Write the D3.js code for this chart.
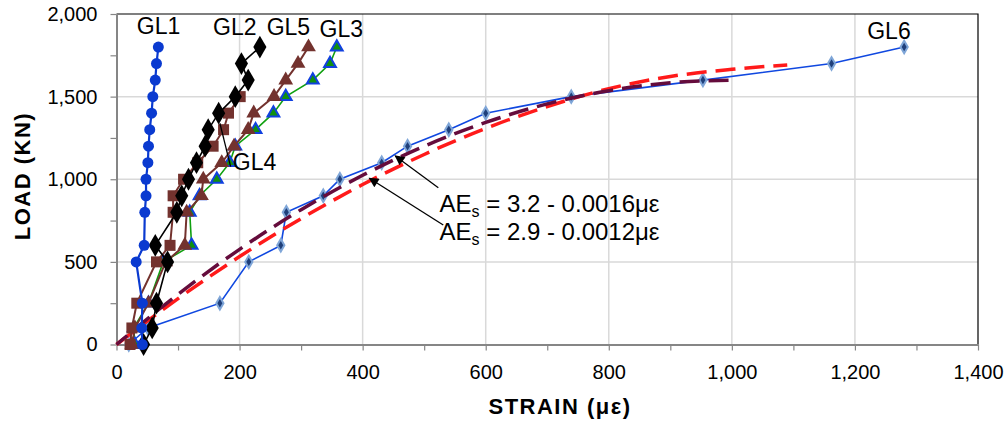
<!DOCTYPE html>
<html><head><meta charset="utf-8">
<script src="https://cdn.jsdelivr.net/npm/d3@7/dist/d3.min.js"></script>
<style>
body{margin:0;background:#fff}
svg{display:block;font-family:"Liberation Sans",Arial,sans-serif}
</style>
</head><body><svg id="c" width="1005" height="421"></svg>
<script>
// ---- data ----
const loads  = [0,100,250,500,600,800,900,1000,1100,1200,1300,1400,1500,1600,1700,1800];
const gl1    = [42,41,42,32,45,46,48,48,51,52,54,57,59,63,65,68];
const gl2    = [44,58,65,83,63,98,106,117,130,144,149,166,193,214,203,233];
const gl3    = [30,28,52,76,122,119,135,163,184,193,226,255,275,319,347,358];
const gl4    = [22,25,33,65,87,92,92,109,132,157,174,182,201];          // loads 0..1500
const gl5    = [25,30,52,80,111,114,138,141,171,191,214,223,256,275,295,312];
const gl6    = [20,51,168,215,267,276,336,363,431,473,540,600,739,953,1162,1280];

const fitStrain1 = [0,100,200,300,400,500,600,700,800,900,1000];
const fitLoad1   = [0,304,576,816,1024,1200,1344,1456,1536,1584,1600];      // AEs = 3.2 - 0.0016με
const fitStrain2 = [0,100,200,300,400,500,600,700,800,900,1000,1090];
const fitLoad2   = [0,278,532,762,968,1150,1308,1440,1548,1622,1665,1692]; // AEs = 2.9 - 0.0012με

const xTicks = [0,100,200,300,400,500,600,700,800,900,1000,1100,1200,1300,1400];
const yTicks = [0,250,500,750,1000,1250,1500,1750,2000];

const seriesLabels = [
  {t:"GL1", s:33,  l:1879},
  {t:"GL2", s:157, l:1873},
  {t:"GL5", s:244, l:1873},
  {t:"GL3", s:330, l:1861},
  {t:"GL4", s:189, l:1056},
  {t:"GL6", s:1220,l:1849}
];
const gl4Pointer = [[168,1339],[185.5,1076]];
const eqArrows = [
  {from:[523,949], to:[453,1141]},
  {from:[531,723], to:[411,1006]}
];
const eqText = [
  {a:"3.2", b:"0.0016", s:525, l:802},
  {a:"2.9", b:"0.0012", s:525, l:632}
];

// ---- layout ----
const svg = d3.select("#c");
const x = d3.scaleLinear().domain([0,1400]).range([116.5,978]);
const y = d3.scaleLinear().domain([0,2000]).range([344.5,14]);

// gridlines
const grid = svg.append("g");
grid.selectAll("line.v").data(d3.range(200,1400,200)).join("line")
  .attr("x1",d=>x(d)).attr("x2",d=>x(d)).attr("y1",y(0)).attr("y2",y(2000))
  .attr("stroke","#d9d9d9").attr("stroke-width",1.5);
grid.selectAll("line.h").data([500,1000,1500]).join("line")
  .attr("x1",x(0)).attr("x2",x(1400)).attr("y1",d=>y(d)).attr("y2",d=>y(d))
  .attr("stroke","#d9d9d9").attr("stroke-width",1.5);
// top/right border
svg.append("path")
  .attr("d",`M${x(0)},${y(2000)}H${x(1400)}V${y(0)}`)
  .attr("fill","none").attr("stroke","#000").attr("stroke-width",1.2);

// axes
const fmt = d3.format(",");
const xAxis = d3.axisBottom(x).tickValues(xTicks).tickSize(6).tickSizeOuter(0).tickPadding(14)
  .tickFormat(d=> d%200===0 ? fmt(d) : "");
const yAxis = d3.axisLeft(y).tickValues(yTicks).tickSize(6).tickSizeOuter(0).tickPadding(13)
  .tickFormat(d=> d%500===0 ? fmt(d) : "");
const gx = svg.append("g").attr("transform",`translate(0,${y(0)})`).call(xAxis);
const gy = svg.append("g").attr("transform",`translate(${x(0)},0)`).call(yAxis);
[gx,gy].forEach(g=>{
  g.select(".domain").attr("stroke","#868686").attr("stroke-width",2);
  g.selectAll(".tick line").attr("stroke","#868686").attr("stroke-width",1.2);
  g.selectAll(".tick text").attr("fill","#000").attr("font-size",20)
    .attr("font-family",'"Liberation Sans",Arial,sans-serif');
});

// axis titles
svg.append("text").attr("x",560).attr("y",414).attr("text-anchor","middle")
  .attr("font-weight","bold").attr("font-size",22).attr("letter-spacing",1.5)
  .text("STRAIN (με)");
svg.append("text").attr("transform","translate(30,176) rotate(-90)").attr("text-anchor","middle")
  .attr("font-weight","bold").attr("font-size",22).attr("letter-spacing",1.5)
  .text("LOAD  (KN)");

const line = d3.line().x(d=>x(d[0])).y(d=>y(d[1]));
const pts = arr => arr.map((s,i)=>[s,loads[i]]);

// GL6
const d6 = pts(gl6);
svg.append("path").attr("d",line(d6)).attr("fill","none").attr("stroke","#1048e0").attr("stroke-width",1.6);
const dia = d3.symbol().type(d3.symbolDiamond);
svg.selectAll("path.m6").data(d6).join("path")
  .attr("transform",d=>`translate(${x(d[0])},${y(d[1])})`)
  .attr("d",dia.size(45)).attr("fill","#1f3f7a").attr("stroke","#7fa6d8").attr("stroke-width",2);

// fit curves
const f1 = fitStrain1.map((s,i)=>[s,fitLoad1[i]]);
const f2 = fitStrain2.map((s,i)=>[s,fitLoad2[i]]);
const curve = d3.line().curve(d3.curveMonotoneX).x(d=>x(d[0])).y(d=>y(d[1]));
svg.append("path").attr("d",curve(f2)).attr("fill","none").attr("stroke","#ff1a1a")
  .attr("stroke-width",3.5).attr("stroke-dasharray","20 9");
svg.append("path").attr("d",curve(f1)).attr("fill","none").attr("stroke","#650c3c")
  .attr("stroke-width",3.5).attr("stroke-dasharray","20 9").attr("stroke-dashoffset",6);

// GL3
const d3p = pts(gl3);
svg.append("path").attr("d",line(d3p)).attr("fill","none").attr("stroke","#10a010").attr("stroke-width",1.6);
const tri = d3.symbol().type(d3.symbolTriangle);
svg.selectAll("path.m3").data(d3p).join("path")
  .attr("transform",d=>`translate(${x(d[0])},${y(d[1])})`)
  .attr("d",tri.size(60)).attr("fill","#109010").attr("stroke","#1040e0").attr("stroke-width",2);

// GL5
const brown = "#73322e";
const d5 = pts(gl5);
svg.append("path").attr("d",line(d5)).attr("fill","none").attr("stroke",brown).attr("stroke-width",2);
svg.selectAll("path.m5").data(d5).join("path")
  .attr("transform",d=>`translate(${x(d[0])},${y(d[1])})`)
  .attr("d",tri.size(95)).attr("fill",brown);

// GL4
const d4 = pts(gl4);
svg.append("path").attr("d",line(d4)).attr("fill","none").attr("stroke",brown).attr("stroke-width",2);
svg.selectAll("rect.m4").data(d4).join("rect")
  .attr("x",d=>x(d[0])-5.5).attr("y",d=>y(d[1])-5.5).attr("width",11).attr("height",11).attr("fill",brown);

// GL2
const d2 = pts(gl2);
svg.append("path").attr("d",line(d2)).attr("fill","none").attr("stroke","#000").attr("stroke-width",1.6);
svg.selectAll("path.m2").data(d2).join("path")
  .attr("transform",d=>`translate(${x(d[0])},${y(d[1])})`)
  .attr("d",dia.size(150)).attr("fill","#000");

// GL1
const d1 = pts(gl1);
svg.append("path").attr("d",line(d1)).attr("fill","none").attr("stroke","#0a3ad0").attr("stroke-width",2.2);
svg.selectAll("circle.m1").data(d1).join("circle")
  .attr("cx",d=>x(d[0])).attr("cy",d=>y(d[1])).attr("r",5.5).attr("fill","#0a3ad0");

// labels
svg.selectAll("text.lab").data(seriesLabels).join("text")
  .attr("x",d=>x(d.s)).attr("y",d=>y(d.l)).attr("font-size",23).attr("fill","#000").text(d=>d.t);
svg.append("line").attr("x1",x(gl4Pointer[0][0])).attr("y1",y(gl4Pointer[0][1]))
  .attr("x2",x(gl4Pointer[1][0])).attr("y2",y(gl4Pointer[1][1])).attr("stroke","#000").attr("stroke-width",1.3);

// arrows
svg.append("defs").append("marker").attr("id","ah").attr("viewBox","0 0 10 10")
  .attr("refX",9).attr("refY",5).attr("markerWidth",13).attr("markerHeight",10)
  .attr("markerUnits","userSpaceOnUse").attr("orient","auto")
  .append("path").attr("d","M0,0L10,5L0,10Z").attr("fill","#000");
svg.selectAll("line.arr").data(eqArrows).join("line")
  .attr("x1",d=>x(d.from[0])).attr("y1",d=>y(d.from[1]))
  .attr("x2",d=>x(d.to[0])).attr("y2",d=>y(d.to[1]))
  .attr("stroke","#000").attr("stroke-width",1.3).attr("marker-end","url(#ah)");

const eq = svg.selectAll("text.eq").data(eqText).join("text")
  .attr("x",d=>x(d.s)).attr("y",d=>y(d.l)).attr("font-size",24).attr("fill","#000");
eq.append("tspan").text("AE");
eq.append("tspan").attr("font-size",16).attr("dy",5).text("s");
eq.append("tspan").attr("dy",-5).text(d=>` = ${d.a} - ${d.b}με`);
</script></body></html>
